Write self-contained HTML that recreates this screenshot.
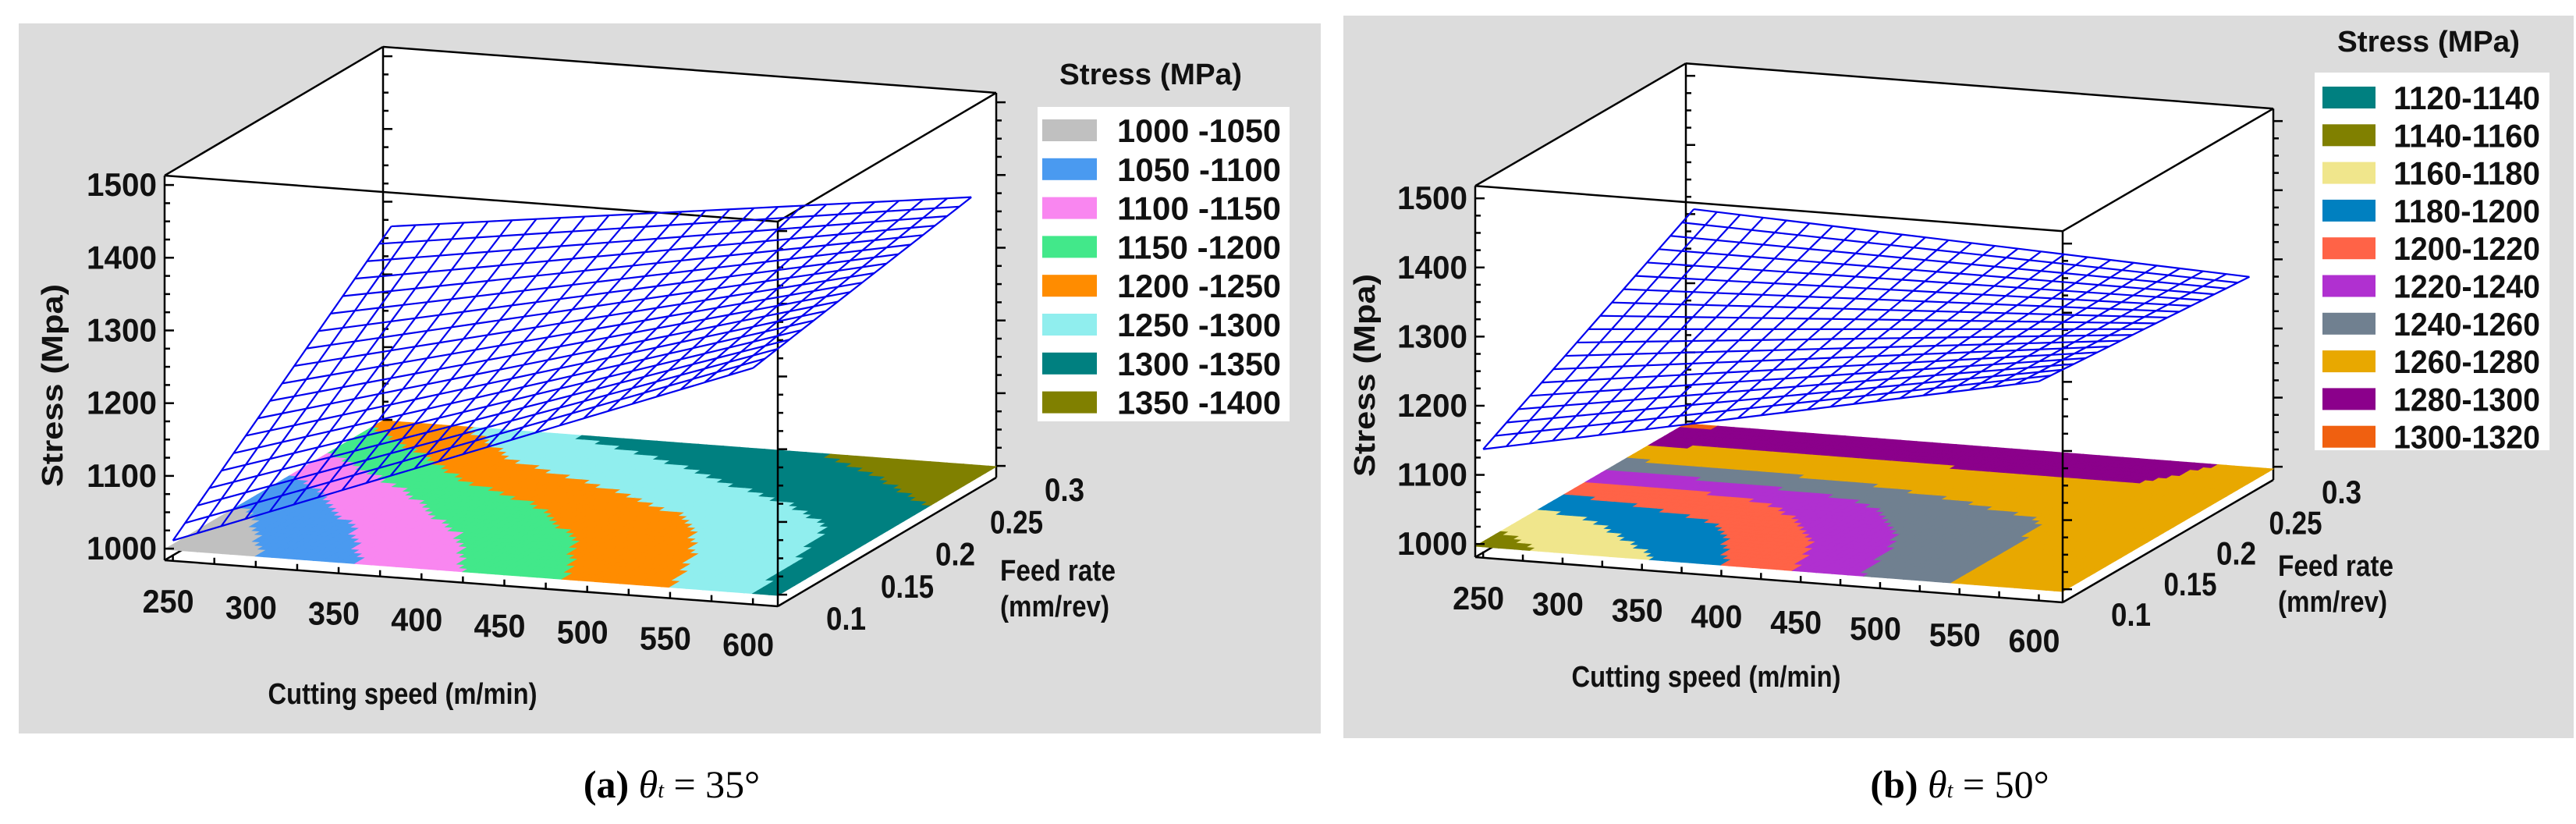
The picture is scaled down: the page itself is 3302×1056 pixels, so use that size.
<!DOCTYPE html>
<html><head><meta charset="utf-8"><style>
html,body{margin:0;padding:0;background:#fff}
svg{display:block}
text{font-family:"Liberation Sans Narrow","Liberation Sans",sans-serif;font-weight:bold;fill:#111}
.cap{font-family:"Liberation Serif",serif;font-weight:normal;fill:#000}
</style></head><body>
<svg id="chart" width="3302" height="1056" viewBox="0 0 3302 1056" xmlns="http://www.w3.org/2000/svg">
<rect x="24" y="30" width="1669" height="910" fill="#dcdcdc"/>
<rect x="1722" y="20" width="1577" height="926" fill="#dcdcdc"/>
<g id="pa"></g>
<g id="pb"></g>
<text class="cap" x="861" y="1022" text-anchor="middle" font-size="50"><tspan font-weight="bold">(a)</tspan> <tspan font-style="italic">θ</tspan><tspan font-style="italic" font-size="28">t</tspan> = 35°</text>
<text class="cap" x="2512" y="1022" text-anchor="middle" font-size="50"><tspan font-weight="bold">(b)</tspan> <tspan font-style="italic">θ</tspan><tspan font-style="italic" font-size="28">t</tspan> = 50°</text>
</svg>
<script>
const speeds = [250,300,350,400,450,500,550,600];
const feeds = [0.1,0.15,0.2,0.25,0.3];
const speedTicks = ["250","300","350","400","450","500","550","600"];
const feedTicks = ["0.1","0.15","0.2","0.25","0.3"];
const stressTicks = [1000,1100,1200,1300,1400,1500];
// panel a contour stress grid (rows = feeds, cols = speeds)
const stressA_f010 = [1005,1047,1088,1130,1171,1210,1250,1300];
const stressA_f015 = [1036,1078,1120,1157,1193,1228,1262,1306];
const stressA_f020 = [1083,1124,1168,1198,1227,1254,1281,1315];
const stressA_f025 = [1153,1193,1239,1262,1285,1306,1326,1351];
const stressA_f030 = [1215,1252,1298,1315,1330,1347,1365,1385];
// panel a response surface corners (speeds 250, 600)
const meshA_f010 = [1012,1309];
const meshA_f030 = [1267,1367];
const legendA = ["1000 -1050","1050 -1100","1100 -1150","1150 -1200","1200 -1250","1250 -1300","1300 -1350","1350 -1400"];
const bandsA = [1000,1050,1100,1150,1200,1250,1300,1350,1400];
const colorsA = ["#c0c0c0","#4a9af0","#f986f0","#42e88a","#ff8c00","#90eeee","#008080","#808000"];
// panel b contour stress grid
const stressB_f010 = [1150,1165,1178,1199,1221,1246,1261,1272];
const stressB_f015 = [1172,1183,1193,1211,1230,1249,1261,1271];
const stressB_f020 = [1212,1215,1220,1230,1245,1255,1262,1270];
const stressB_f025 = [1268,1270,1272,1274,1276,1278,1279,1276];
const stressB_f030 = [1305,1295,1292,1290,1288,1285,1283,1278];
const meshB_f010 = [1138,1298];
const meshB_f030 = [1308,1272];
const legendB = ["1120-1140","1140-1160","1160-1180","1180-1200","1200-1220","1220-1240","1240-1260","1260-1280","1280-1300","1300-1320"];
const bandsB = [1120,1140,1160,1180,1200,1220,1240,1260,1280,1300,1320];
const colorsB = ["#008080","#808000","#f0e68c","#0080c0","#ff6347","#b030d0","#708090","#e8a800","#8b008b","#f06010"];

const NS="http://www.w3.org/2000/svg";
function mk(parent,tag,attrs){const e=document.createElementNS(NS,tag);for(const k in attrs)e.setAttribute(k,attrs[k]);parent.appendChild(e);return e;}

function drawPanel(g,cfg,grid,mesh2,bands,colors,legend){
  const s0=245,s1=615,f0=0.1,f1=0.3;
  function P(s,f,z){
    const a=(s-s0)/(s1-s0), b=(f-f0)/(f1-f0);
    return [cfg.O[0]+a*cfg.sv[0]+b*cfg.fv[0], cfg.O[1]+a*cfg.sv[1]+b*cfg.fv[1]-(z-cfg.zb)*cfg.zs];
  }
  function val(s,f){
    let i=Math.min(speeds.length-2,Math.max(0,Math.floor((s-250)/50)));
    let j=Math.min(feeds.length-2,Math.max(0,Math.floor((f-0.1)/0.05+1e-9)));
    const u=Math.max(-0.2,Math.min(1.3,(s-speeds[i])/50)), v=(f-feeds[j])/0.05;
    return grid[j][i]*(1-u)*(1-v)+grid[j][i+1]*u*(1-v)+grid[j+1][i]*(1-u)*v+grid[j+1][i+1]*u*v;
  }
  function mval(s,f){
    const u=(s-250)/350, v=(f-0.1)/0.2;
    return mesh2[0][0]*(1-u)*(1-v)+mesh2[0][1]*u*(1-v)+mesh2[1][0]*(1-u)*v+mesh2[1][1]*u*v;
  }
  const zb=cfg.zb, zt=cfg.zt;
  const c=(s,f,z)=>P(s,f,z);
  const pts=a=>a.map(p=>p.join(',')).join(' ');
  const hull=mk(g,'polygon',{points:pts([c(s0,f0,zb),c(s1,f0,zb),c(s1,f1,zb),c(s1,f1,zt),c(s0,f1,zt),c(s0,f0,zt)]),fill:'#fff'});
  
  
  const edges=[[[s0,f1,zb],[s0,f1,zt]],[[s1,f1,zb],[s1,f1,zt]],[[s0,f1,zt],[s1,f1,zt]],[[s0,f0,zt],[s0,f1,zt]],[[s1,f0,zt],[s1,f1,zt]],[[s0,f0,zb],[s0,f1,zb]],[[s1,f0,zb],[s1,f1,zb]]];
  for(const e of edges){const a=c(...e[0]),b=c(...e[1]);
    const l=mk(g,'line',{x1:a[0],y1:a[1],x2:b[0],y2:b[1],stroke:'#000','stroke-width':2.5});
    
    }
  const fl=mk(g,'g',{});
  
  
  const NSx=74,NFx=40;
  const fz=zb+14/cfg.zs;
  for(let i=0;i<NSx;i++)for(let j=0;j<NFx;j++){
    const sa=s0+(s1-s0)*i/NSx, sb=s0+(s1-s0)*(i+1)/NSx, fa=f0+(f1-f0)*j/NFx, fb=f0+(f1-f0)*(j+1)/NFx;
    const v=val((sa+sb)/2,(fa+fb)/2);
    let k=0;while(k<bands.length-2&&v>=bands[k+1])k++;
    const col=colors[k];
    const r=mk(fl,'polygon',{points:pts([c(sa,fa,fz),c(sb,fa,fz),c(sb,fb,fz),c(sa,fb,fz)]),fill:col,stroke:col,'stroke-width':1});
    
    
  }
  const fe=[[[s0,f0,zb],[s0,f0,zt]],[[s0,f0,zt],[s1,f0,zt]],[[s0,f0,zb],[s1,f0,zb]],[[s1,f0,zb],[s1,f0,zt]]];
  for(const e of fe){const a=c(...e[0]),b=c(...e[1]);
    const l=mk(g,'line',{x1:a[0],y1:a[1],x2:b[0],y2:b[1],stroke:'#000','stroke-width':2.5});
    
    }
  for(let z=1000;z<=1500;z+=25){
    for(const [s,f] of [[s0,f0],[s0,f1],[s1,f1],[s1,f0]]){const p=c(s,f,z);
      const t=mk(g,'line',{x1:p[0],y1:p[1],x2:p[0]+(z%100===0?12:7),y2:p[1],stroke:'#000','stroke-width':2.5});
      
      }
  }
  for(let i=0;i<=14;i++){const s=250+25*i;const p=c(s,f0,zb);
    const t=mk(g,'line',{x1:p[0],y1:p[1],x2:p[0],y2:p[1]-8,stroke:'#000','stroke-width':2.5});
    
    }
  const mesh=mk(g,'g',{fill:'none',stroke:'#0000ee','stroke-width':2.2});
  
  
  const MS=24,MF=18;
  for(let i=0;i<=MS;i++){const s=250+350*i/MS;const arr=[];for(let j=0;j<=MF;j++){const f=0.1+0.2*j/MF;arr.push(c(s,f,mval(s,f)));}
    const pl=mk(mesh,'polyline',{points:pts(arr)});
    
    }
  for(let j=0;j<=MF;j++){const f=0.1+0.2*j/MF;const arr=[];for(let i=0;i<=MS;i++){const s=250+350*i/MS;arr.push(c(s,f,mval(s,f)));}
    const pl=mk(mesh,'polyline',{points:pts(arr)});
    
    }
  speedTicks.forEach((t,i)=>{const p=c(speeds[i],f0,zb);
    const e=mk(g,'text',{x:p[0]-6,y:p[1]+66,'font-size':42,'text-anchor':'middle',textLength:66,lengthAdjust:'spacingAndGlyphs'});e.textContent=t;
    
    });
  feedTicks.forEach((t,j)=>{const p=c(s1,feeds[j],zb);
    const e=mk(g,'text',{x:p[0]+62,y:p[1]+30,'font-size':42,textLength:t.length*17,lengthAdjust:'spacingAndGlyphs'});e.textContent=t;
    
    });
  stressTicks.forEach(z=>{const p=c(s0,f0,z);
    const e=mk(g,'text',{x:p[0]-10,y:p[1]+14,'font-size':42,'text-anchor':'end',textLength:90,lengthAdjust:'spacingAndGlyphs'});e.textContent=z;
    
    });
  let e=mk(g,'text',{x:cfg.yt[0],y:cfg.yt[1],'font-size':38,'text-anchor':'middle',transform:`rotate(-90 ${cfg.yt[0]} ${cfg.yt[1]})`,textLength:260,lengthAdjust:'spacingAndGlyphs'});e.textContent='Stress (Mpa)';
  
  
  e=mk(g,'text',{x:cfg.xt[0],y:cfg.xt[1],'font-size':38,'text-anchor':'middle',textLength:345,lengthAdjust:'spacingAndGlyphs'});e.textContent='Cutting speed (m/min)';
  
  
  e=mk(g,'text',{x:cfg.ft[0],y:cfg.ft[1],'font-size':38,textLength:148,lengthAdjust:'spacingAndGlyphs'});e.textContent='Feed rate';
  
  
  e=mk(g,'text',{x:cfg.ft[0],y:cfg.ft[1]+46,'font-size':38,textLength:140,lengthAdjust:'spacingAndGlyphs'});e.textContent='(mm/rev)';
  
  
  const L=cfg.leg;
  e=mk(g,'text',{x:L.tx,y:L.ty,'font-size':38,'text-anchor':'middle',textLength:234,lengthAdjust:'spacingAndGlyphs'});e.textContent='Stress (MPa)';
  
  
  const lb=mk(g,'rect',{x:L.x,y:L.y,width:L.w,height:L.h,fill:'#fff'});
  
  
  legend.forEach((t,i)=>{const cy=L.c0+i*L.dy;
    const r=mk(g,'rect',{x:L.sx,y:cy-14,width:L.sw,height:28,fill:colors[i]});
    
    
    const tx=mk(g,'text',{x:L.lx,y:cy+15,'font-size':42,textLength:L.tl,lengthAdjust:'spacingAndGlyphs'});tx.textContent=t;
    
    });
}

drawPanel(document.getElementById('pa'),
 {O:[211,718],sv:[786,59],fv:[280,-165],zb:984,zt:1513,zs:0.932,yt:[80,494],xt:[516,902],ft:[1282,744],
  leg:{tx:1475,ty:108,x:1330,y:137,w:323,h:403,sx:1336,sw:70,c0:167,dy:49.8,lx:1432,tl:210}},
 [stressA_f010,stressA_f015,stressA_f020,stressA_f025,stressA_f030],[meshA_f010,meshA_f030],bandsA,colorsA,legendA);
drawPanel(document.getElementById('pb'),
 {O:[1891,714],sv:[753,58],fv:[270,-157],zb:981,zt:1518,zs:0.886,yt:[1762,481],xt:[2187,880],ft:[2920,738],
  leg:{tx:3113,ty:66,x:2967,y:93,w:301,h:484,sx:2977,sw:68,c0:125,dy:48.3,lx:3068,tl:188}},
 [stressB_f010,stressB_f015,stressB_f020,stressB_f025,stressB_f030],[meshB_f010,meshB_f030],bandsB,colorsB,legendB);
</script>
</body></html>
